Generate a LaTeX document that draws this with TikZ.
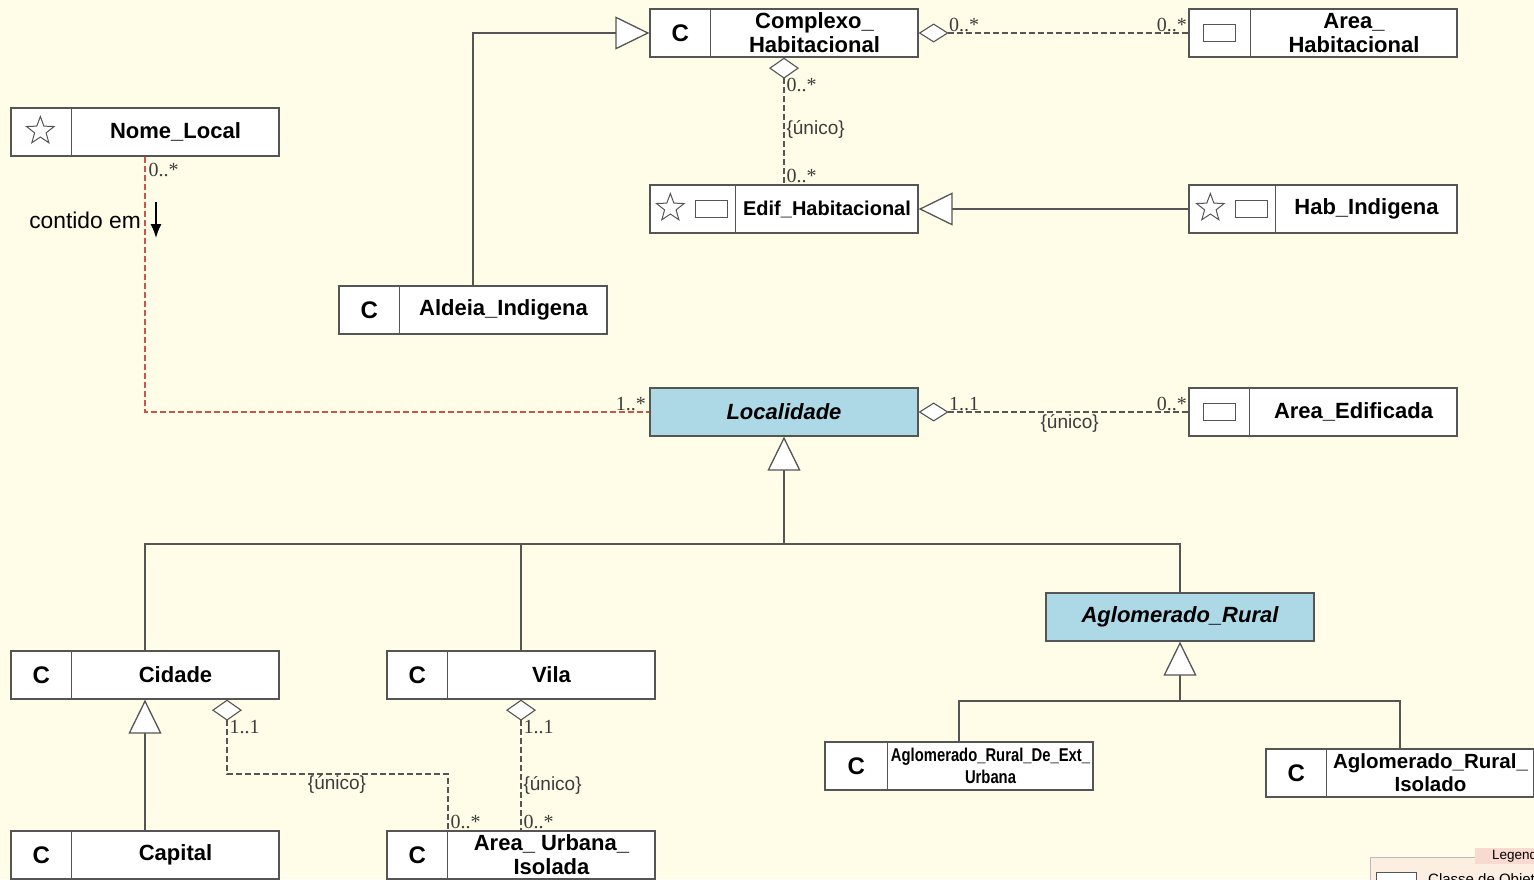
\documentclass[tikz,border=0pt]{standalone}
\usepackage{fontspec}
\setmainfont{Liberation Sans}
\newfontfamily\multfont{Liberation Serif}
\newfontfamily\narrowfont[FakeStretch=0.8]{Liberation Sans}
\usetikzlibrary{arrows.meta,shapes.geometric,calc}

\definecolor{bgcream}{RGB}{255,253,232}
\definecolor{linegray}{RGB}{85,85,85}
\definecolor{labelgray}{RGB}{60,60,60}
\definecolor{abstractblue}{RGB}{173,216,230}
\definecolor{assocred}{RGB}{205,85,70}
\definecolor{legendfill}{RGB}{252,238,224}
\definecolor{legendtab}{RGB}{248,218,208}

\tikzset{
  line/.style={draw=linegray, line width=1.3pt},
  cls/.style={line, fill=white, minimum width=268pt, minimum height=48pt, inner sep=0pt},
  abstractcls/.style={cls, fill=abstractblue, font=\bfseries\itshape\fontsize{22}{26}\selectfont},
  clsname/.style={font=\bfseries\fontsize{22}{24}\selectfont, align=center, inner sep=0pt},
  cicon/.style={font=\bfseries\fontsize{24}{26}\selectfont, inner sep=0pt},
  staricon/.style={star, star points=5, star point ratio=2.4, draw=linegray, line width=1pt, minimum size=29pt, inner sep=0pt},
  recticon/.style={line, fill=white, minimum width=32pt, minimum height=17pt, inner sep=0pt},
  inh/.style={line, -{Triangle[length=34pt, width=33pt, fill=white]}},
  dashline/.style={draw=linegray, line width=1.1pt, dash pattern=on 6pt off 3pt},
  aggh/.style={dashline, {Diamond[length=30pt, width=19pt, fill=white, line width=1.1pt]}-},
  aggv/.style={dashline, {Diamond[length=21pt, width=30pt, fill=white, line width=1.1pt]}-},
  assoc/.style={draw=assocred, line width=1.1pt, dash pattern=on 6pt off 3pt},
  mult/.style={font=\multfont\fontsize{20}{22}\selectfont, text=labelgray, inner sep=1pt},
  constraint/.style={font=\fontsize{19}{21}\selectfont, text=labelgray, inner sep=1pt},
  dirarrow/.style={draw=black, line width=1.5pt, -{Latex[length=14pt, width=11pt]}},
  % per class name fonts
  edif name/.style={font=\bfseries\fontsize{20}{22}\selectfont},
  extu name/.style={font=\narrowfont\bfseries\fontsize{18.5}{22}\selectfont},
  isol name/.style={font=\bfseries\fontsize{20.5}{23}\selectfont}
}

% class box: [divider offset] name, position, label
\newcommand{\umlclass}[4][61]{%
  \node[cls] (#2) at #3 {};
  \draw[line] ([xshift=#1pt]#2.north west) -- ([xshift=#1pt]#2.south west);
  \node[clsname, #2 name/.try] (#2-name) at ($([xshift=#1pt]#2.west)!0.5!(#2.east)$) {#4};
}

\begin{document}
\begin{tikzpicture}[x=1pt, y=-1pt]
  \fill[bgcream] (0,0) rectangle (1534,879);
  \useasboundingbox (0,0) rectangle (1534,879);
  \clip (0,0) rectangle (1534,879);

  % classes
  \umlclass{complexo}{(784,33)}{Complexo\_\\Habitacional}
  \umlclass[62]{areahab}{(1323,33)}{Area\_\\Habitacional}
  \umlclass{nome}{(145,132)}{Nome\_Local}
  \umlclass[86]{edif}{(784,209)}{Edif\_Habitacional}
  \umlclass[87]{hab}{(1323,209)}{Hab\_Indigena}
  \umlclass{aldeia}{(473,310)}{Aldeia\_Indigena}
  \node[abstractcls] (localidade) at (784,412) {Localidade};
  \umlclass{areaed}{(1323,412)}{Area\_Edificada}
  \node[abstractcls] (aglom) at (1180,617) {Aglomerado\_Rural};
  \umlclass{cidade}{(145,675)}{Cidade}
  \umlclass{vila}{(521,675)}{Vila}
  \umlclass{capital}{(145,855)}{Capital}
  \umlclass{aui}{(521,855)}{Area\_ Urbana\_\\Isolada}
  \umlclass[63]{extu}{(959,766)}{Aglomerado\_Rural\_De\_Ext\_\\Urbana}
  \umlclass{isol}{(1400,773)}{Aglomerado\_Rural\_\\Isolado}

  % icons
  \foreach \cname in {complexo, aldeia, cidade, vila, capital, aui, isol}
    \node[cicon] (\cname-c) at ([xshift=31pt]\cname.west) {C};
  \node[cicon] (extu-c) at ([xshift=32pt]extu.west) {C};
  \node[staricon] (nome-star) at ([xshift=30pt, yshift=1pt]nome.west) {};
  \node[staricon] (edif-star) at ([xshift=21pt, yshift=1pt]edif.west) {};
  \node[recticon] (edif-rect) at ([xshift=62pt]edif.west) {};
  \node[staricon] (hab-star) at ([xshift=22pt, yshift=1pt]hab.west) {};
  \node[recticon] (hab-rect) at ([xshift=63pt]hab.west) {};
  \node[recticon] (areahab-rect) at ([xshift=31pt]areahab.west) {};
  \node[recticon] (areaed-rect) at ([xshift=31pt]areaed.west) {};

  % generalizations
  \draw[inh] (aldeia.north) |- (complexo.west);
  \draw[inh] (hab.west) -- (edif.east);
  \coordinate (locfork) at (784,544);
  \draw[inh] (locfork) -- (localidade.south);
  \draw[line] (cidade.north) |- (locfork) -| (aglom.north);
  \draw[line] (vila.north) -- (vila.north |- locfork);
  \coordinate (aglfork) at (1180,701);
  \draw[inh] (aglfork) -- (aglom.south);
  \draw[line] (extu.north) |- (aglfork) -| (isol.north);
  \draw[inh] (capital.north) -- (cidade.south);

  % aggregations
  \draw[aggh] (complexo.east) -- (areahab.west)
    node[mult, pos=0, anchor=south west, xshift=29pt] {0..*}
    node[mult, pos=1, anchor=south east] {0..*};
  \draw[aggv] (complexo.south) -- (edif.north)
    node[mult, pos=0, anchor=north west, yshift=-19pt, xshift=1pt] {0..*}
    node[constraint, pos=0.57, anchor=west, xshift=1pt] {\{único\}}
    node[mult, pos=1, anchor=south west, xshift=1pt] {0..*};
  \draw[aggh] (localidade.east) -- (areaed.west)
    node[mult, pos=0, anchor=south west, xshift=29pt] {1..1}
    node[constraint, pos=0.56, below, yshift=-1pt] {\{único\}}
    node[mult, pos=1, anchor=south east] {0..*};
  \coordinate (cturn) at (337,774);
  \draw[aggv] ([xshift=82pt]cidade.south) |- (cturn)
    node[mult, pos=0, anchor=north west, yshift=-19pt, xshift=1pt] {1..1}
    -| ([xshift=-73pt]aui.north)
    node[mult, pos=1, anchor=south west, xshift=1pt] {0..*};
  \node[constraint, below] (cturn-label) at (cturn) {\{único\}};
  \draw[aggv] (vila.south) -- (aui.north)
    node[mult, pos=0, anchor=north west, yshift=-19pt, xshift=1pt] {1..1}
    node[constraint, pos=0.66, anchor=west, xshift=1pt] {\{único\}}
    node[mult, pos=1, anchor=south west, xshift=1pt] {0..*};

  % association
  \draw[assoc] (nome.south) |- (localidade.west)
    node[mult, pos=0, anchor=north west, yshift=-5pt, xshift=2pt] {0..*}
    node[mult, pos=1, anchor=south east, xshift=-2pt] {1..*};
  \node[anchor=east, font=\fontsize{22.8}{25}\selectfont, inner sep=1pt] (contido) at (142,220) {contido em};
  \coordinate (dirtop) at (156,202);
  \coordinate (dirbot) at (156,238);
  \draw[dirarrow] (dirtop) -- (dirbot);

  % legend
  \node[draw=linegray!40, fill=legendfill, minimum width=200pt, minimum height=60pt, anchor=north west] (legend) at (1370,857) {};
  \node[fill=legendtab, anchor=north west, minimum height=16pt, minimum width=80pt, inner xsep=17pt, inner ysep=0pt,
        font=\fontsize{13.5}{16}\selectfont, align=left, text width=50pt] (legend-tab) at (1475,848) {Legenda};
  \node[recticon, anchor=north west, minimum width=40pt, minimum height=20pt] (legend-icon) at (1376,872) {};
  \node[anchor=north west, font=\fontsize{15}{17}\selectfont, inner sep=0pt] (legend-text) at (1428,873) {Classe de Objeto};
\end{tikzpicture}
\end{document}
